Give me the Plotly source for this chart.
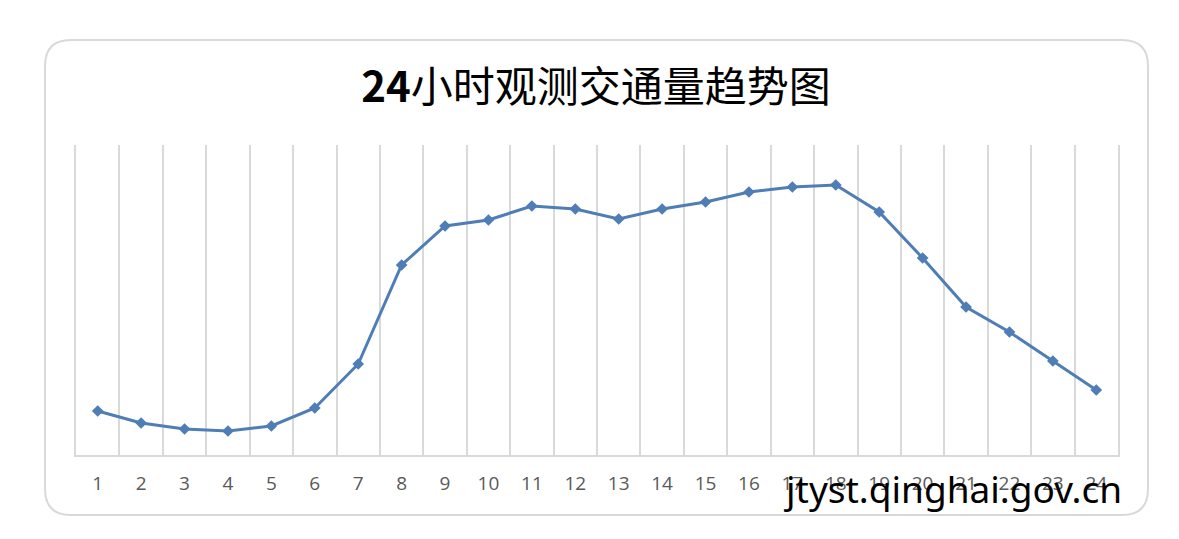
import plotly.graph_objects as go

hours = list(range(1, 25))
traffic = [44, 32, 26, 24, 29, 47, 91, 190, 229, 235, 249, 246,
           236, 246, 253, 263, 268, 270, 243, 197, 148, 123, 94, 65]
hour_labels = [str(h) for h in hours]

# page puts the figure 8px in from the top-left corner
OFF = 8
W, H = 1163, 523
L, T = 76 - OFF, 145 - OFF
R, B = W - (1118 - OFF), H - (455 - OFF)
pw, ph = W - L - R, H - T - B


def px(x):
    return (x - OFF - L) / pw


def py(y):
    return (H - B - (y - OFF)) / ph


# rounded frame around the chart, in paper coords
x0, x1, y0, y1 = px(45), px(1148), py(515), py(40)
rx, ry = 26 / pw, 26 / ph
frame = (f"M {x0+rx},{y1} L {x1-rx},{y1} Q {x1},{y1} {x1},{y1-ry} "
         f"L {x1},{y0+ry} Q {x1},{y0} {x1-rx},{y0} L {x0+rx},{y0} "
         f"Q {x0},{y0} {x0},{y0+ry} L {x0},{y1-ry} Q {x0},{y1} {x0+rx},{y1} Z")

fig = go.Figure(go.Scatter(
    x=hours, y=traffic, mode='lines+markers',
    line=dict(color='#4f7db5', width=3),
    marker=dict(symbol='diamond', size=9, color='#4f7db5'),
    hoverinfo='x+y'))

fig.update_layout(
    width=W, height=H,
    margin=dict(l=L, r=R, t=T, b=B),
    paper_bgcolor='white', plot_bgcolor='white',
    showlegend=False,
    title=dict(text='<b>24</b>小时观测交通量趋势图', x=px(596), xref='paper',
               y=1 - (87 - OFF) / H, yanchor='middle', xanchor='center',
               font=dict(family='Noto Sans CJK SC', size=42, color='black')),
    shapes=[dict(type='path', path=frame, xref='paper', yref='paper',
                 line=dict(color='#d9d9d9', width=2), layer='below')],
    annotations=[dict(text='jtyst.qinghai.gov.cn', xref='paper', yref='paper',
                      x=px(1124), y=py(488), xanchor='right', yanchor='middle',
                      showarrow=False,
                      font=dict(family='Noto Sans', size=37, color='black'))],
)

fig.update_xaxes(
    range=[0.5, 24.5], tickmode='array', tickvals=hours, ticktext=hour_labels,
    showgrid=False, zeroline=False,
    showline=True, linecolor='#d9d9d9', linewidth=1.5,
    ticks='', ticklabelstandoff=10,
    tickfont=dict(family='Open Sans', size=19, color='#595959'),
    minor=dict(tickmode='linear', tick0=0.5, dtick=1, showgrid=True,
               gridcolor='#d9d9d9', gridwidth=1.5),
)
fig.update_yaxes(range=[0, 310], showgrid=False, zeroline=False,
                 showticklabels=False, showline=True, mirror=True,
                 linecolor='#d9d9d9', linewidth=1.5)

fig.write_html("out.html")
